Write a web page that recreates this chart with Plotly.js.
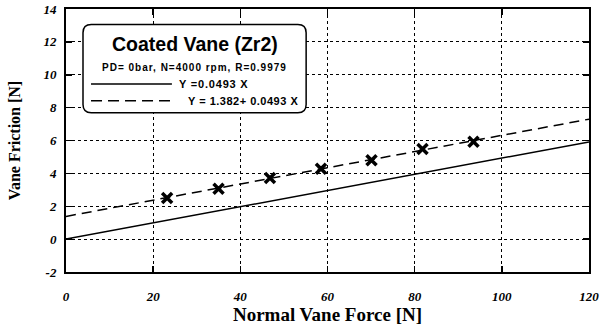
<!DOCTYPE html>
<html>
<head>
<meta charset="utf-8">
<script src="https://cdn.plot.ly/plotly-3.0.1.min.js"></script>
<style>html,body{margin:0;padding:0;background:#fff;}#chart{width:603px;height:331px;}</style>
</head>
<body>
<div id="chart"></div>
<script>
// Measured data (Normal Vane Force [N] vs Vane Friction [N])
const forceX = [23.2, 35.0, 46.8, 58.5, 70.1, 81.8, 93.5];
const frictionY = [2.5, 3.07, 3.72, 4.28, 4.80, 5.48, 5.92];

// Fit lines given in the legend
const fitX = [0, 120];
const slope = 0.0493;
const intercept = 1.382;
const fitThroughOrigin = fitX.map(x => slope * x);
const fitWithIntercept = fitX.map(x => intercept + slope * x);

const xTicks = [0, 20, 40, 60, 80, 100, 120];
const yTicks = [-2, 0, 2, 4, 6, 8, 10, 12, 14];

const boxTitle = 'Coated Vane (Zr2)';
const boxSub = 'PD= 0bar, N=4000 rpm, R=0.9979';
const eq1 = 'Y =0.0493 X';
const eq2 = 'Y = 1.382+ 0.0493 X';

const serif = 'Liberation Serif, Times New Roman, serif';
const sans = 'Liberation Sans, Arial, sans-serif';
const tickFont = {family: serif, size: 13, color: '#000', weight: 'bold', style: 'italic'};
const bi = v => '<b><i>' + v + '</i></b>';

const traces = [
  {x: fitX, y: fitThroughOrigin, mode: 'lines', line: {color: '#000', width: 1.5}, hoverinfo: 'skip'},
  {x: fitX, y: fitWithIntercept, mode: 'lines', line: {color: '#000', width: 1.5, dash: '10px,6px'}, hoverinfo: 'skip'},
  {x: forceX, y: frictionY, mode: 'markers', marker: {symbol: 'x-thin', size: 10, color: '#000', line: {color: '#000', width: 3.5}}}
];

// rounded legend box in data units
const bx0 = 3.9, bx1 = 55.1, by0 = 7.69, by1 = 13.05, rx = 1.9, ry = 0.5;
const boxPath = `M ${bx0+rx},${by1} L ${bx1-rx},${by1} Q ${bx1},${by1} ${bx1},${by1-ry} L ${bx1},${by0+ry} Q ${bx1},${by0} ${bx1-rx},${by0} L ${bx0+rx},${by0} Q ${bx0},${by0} ${bx0},${by0+ry} L ${bx0},${by1-ry} Q ${bx0},${by1} ${bx0+rx},${by1} Z`;

const axisCommon = {
  showline: true, linecolor: '#000', linewidth: 2, mirror: 'ticks',
  ticks: 'inside', ticklen: 6, tickwidth: 1.5, tickcolor: '#000',
  showgrid: true, gridcolor: '#000', gridwidth: 1, griddash: 'dot',
  zeroline: false, tickfont: tickFont, fixedrange: true
};

const layout = {
  width: 603, height: 331,
  margin: {l: 66, r: 14, t: 9, b: 59},
  paper_bgcolor: '#fff', plot_bgcolor: '#fff',
  showlegend: false,
  xaxis: Object.assign({}, axisCommon, {
    range: [0, 120], tickvals: xTicks, ticktext: xTicks.map(v => bi(v)),
    ticklabelstandoff: 11,
    title: {text: '<b>Normal Vane Force [N]</b>', font: {family: serif, size: 19, color: '#000'}, standoff: 4}
  }),
  yaxis: Object.assign({}, axisCommon, {
    range: [-2, 14], tickvals: yTicks, ticktext: yTicks.map(v => bi(v)),
    ticklabelstandoff: 5,
    title: {text: '<b>Vane Friction [N]</b>', font: {family: serif, size: 16, color: '#000'}, standoff: 19}
  }),
  shapes: [
    {type: 'path', xref: 'x', yref: 'y', path: boxPath, line: {color: '#000', width: 1.5}, fillcolor: '#fff', layer: 'above'},
    {type: 'line', xref: 'x', yref: 'y', x0: 5.74, x1: 24.3, y0: 9.44, y1: 9.44, line: {color: '#000', width: 1.5}, layer: 'above'},
    {type: 'line', xref: 'x', yref: 'y', x0: 5.74, x1: 23.86, y0: 8.42, y1: 8.42, line: {color: '#000', width: 1.5, dash: '11px,6px'}, layer: 'above'}
  ],
  annotations: [
    {xref: 'x', yref: 'y', x: 29.6, y: 11.89, text: '<b>' + boxTitle + '</b>', showarrow: false, xanchor: 'center', yanchor: 'middle',
     font: {family: sans, size: 19.5, color: '#000'}},
    {xref: 'x', yref: 'y', x: 29.4, y: 10.43, text: '<b>' + boxSub + '</b>', showarrow: false, xanchor: 'center', yanchor: 'middle',
     font: {family: sans, size: 10, color: '#000'}},
    {xref: 'x', yref: 'y', x: 25.4, y: 9.44, text: '<b>' + eq1 + '</b>', showarrow: false, xanchor: 'left', yanchor: 'middle', align: 'left',
     font: {family: sans, size: 11, color: '#000'}},
    {xref: 'x', yref: 'y', x: 27.6, y: 8.42, text: '<b>' + eq2 + '</b>', showarrow: false, xanchor: 'left', yanchor: 'middle', align: 'left',
     font: {family: sans, size: 11, color: '#000'}}
  ]
};

Plotly.newPlot('chart', traces, layout, {displayModeBar: false, staticPlot: true}).then(gd => {
  // widen letter spacing of the legend-box texts as in the original
  const spacing = [0, 1, 0.8, 0.5];
  gd.querySelectorAll('.annotation-text').forEach((t, i) => {
    if (spacing[i]) t.style.letterSpacing = spacing[i] + 'px';
  });
});
</script>
</body>
</html>
